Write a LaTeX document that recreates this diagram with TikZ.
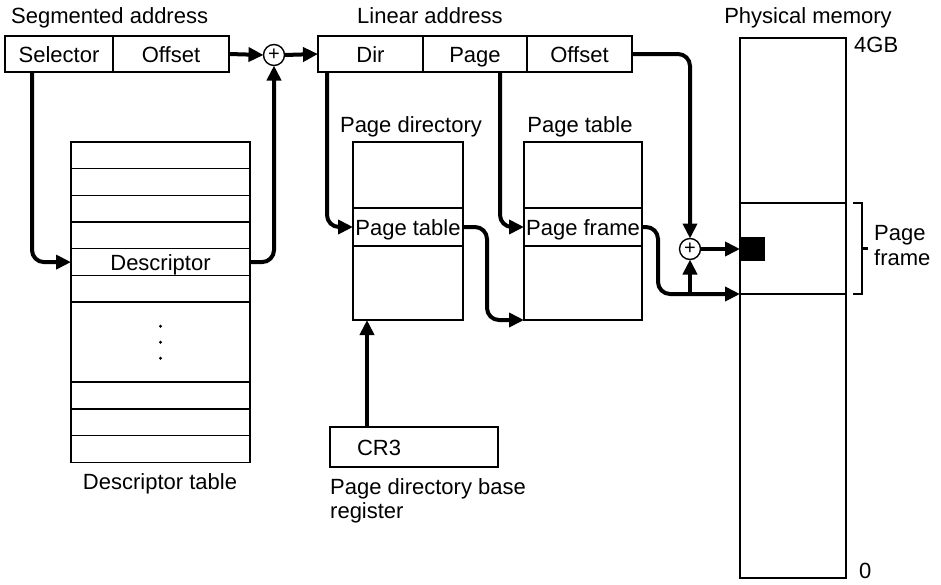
\documentclass[tikz,border=0pt]{standalone}
\usepackage{fontspec}
\setmainfont{Liberation Sans}
\usetikzlibrary{calc}
\usetikzlibrary{positioning}
\usetikzlibrary{arrows.meta}
\tikzstyle{fieldbox} = [draw=black, line width=1.4pt, outer sep=0pt,
minimum height=36pt, inner sep=0pt, text centered,
text height=17pt, text depth=0pt]
\tikzstyle{tabrow} = [draw=black, line width=1.4pt, outer sep=0pt,
minimum width=179pt, minimum height=26.7pt, inner sep=0pt,
text height=16pt, text depth=0pt]
\tikzstyle{adder} = [circle, draw=black, line width=1.4pt, outer sep=0pt,
minimum size=21pt, inner sep=0pt, font=\fontsize{20}{20}\selectfont]
\tikzstyle{lbl} = [inner sep=0pt]
\tikzstyle{arrow} = [line width=4pt, rounded corners=12pt,
-{Triangle[length=15pt,width=14pt]}]

\begin{document}
\begin{tikzpicture}[x=1pt, y=-1pt, font=\fontsize{22}{24}\selectfont] % 1px = 1pt
\useasboundingbox (0,0) rectangle (941,584);

% segmented address
\node[lbl, anchor=base west] (segtitle) at (11,23) {Segmented address};
\node[fieldbox, minimum width=108pt] (sel) at (59,54) {Selector};
\node[fieldbox, minimum width=116pt, right=0pt of sel] (soff) {Offset};
\node[adder] (add1) at (274,55) {+};

% linear address, placed to the right
\node[lbl, anchor=base] (lintitle) at (430,23) {Linear address};
\node[fieldbox, minimum width=105pt] (dir) at (370.5,54) {Dir};
\node[fieldbox, minimum width=104pt, right=0pt of dir] (page) {Page};
\node[fieldbox, minimum width=105pt, right=0pt of page] (loff) {Offset};

% descriptor table
\node[tabrow] (dt1) at (160.5,155.3) {};
\foreach \i [count=\j from 2] in {1,2,3}
    \node[tabrow, below=0pt of dt\i] (dt\j) {};
\node[tabrow, below=0pt of dt4] (desc) {Descriptor};
\node[tabrow, below=0pt of desc] (dt5) {};
\node[tabrow, minimum height=80pt, below=0pt of dt5] (dtgap) {};
\node[tabrow, below=0pt of dtgap] (dt6) {};
\node[tabrow, below=0pt of dt6] (dt7) {};
\node[tabrow, below=0pt of dt7] (dt8) {};
\foreach \d in {-16,0,16}
    \fill ([yshift=\d pt]dtgap.center) circle (1.6pt);
\node[lbl, anchor=base] (dtlabel) at (160,489) {Descriptor table};

% page directory
\node[lbl, anchor=base] (pdtitle) at (411,132) {Page directory};
\node[fieldbox, minimum width=110pt, minimum height=66pt] (pdtop) at (408,175) {};
\node[fieldbox, minimum width=110pt, minimum height=38pt, below=0pt of pdtop] (pdent) {Page table};
\node[fieldbox, minimum width=110pt, minimum height=74pt, below=0pt of pdent] (pdbot) {};

% page table
\node[lbl, anchor=base] (pttitle) at (580,132) {Page table};
\node[fieldbox, minimum width=118pt, minimum height=66pt] (pttop) at (583,175) {};
\node[fieldbox, minimum width=118pt, minimum height=38pt, below=0pt of pttop] (ptent) {Page frame};
\node[fieldbox, minimum width=118pt, minimum height=74pt, below=0pt of ptent] (ptbot) {};

% physical memory
\node[lbl, anchor=base] (pmtitle) at (808,23) {Physical memory};
\node[fieldbox, minimum width=106pt, minimum height=165pt] (pmtop) at (793,120.5) {};
\node[fieldbox, minimum width=106pt, minimum height=91pt, below=0pt of pmtop] (pfr) {};
\node[fieldbox, minimum width=106pt, minimum height=284pt, below=0pt of pfr] (pmbot) {};
\node[lbl, anchor=west] (top) at (854,45) {4GB};
\node[lbl, anchor=west] (bottom) at (859,571) {0};
\node[fill=black, outer sep=0pt, minimum width=25pt, minimum height=24pt, inner sep=0pt] (blk) at (752.5,249) {};
\node[adder] (add2) at (690,249) {+};
\draw[line width=2.5pt] ([xshift=7pt]pfr.north east) -| ([xshift=16pt]pfr.south east)
    -- ([xshift=7pt]pfr.south east);
\draw[line width=2.5pt] ([xshift=16pt]pfr.east) -- ++(6,0);
\node[lbl, anchor=west, align=left] (pflabel) at (874,246) {Page\\[1pt]frame};

% CR3
\node[fieldbox, minimum width=168pt, minimum height=40pt, text width=114pt,
    inner xsep=27pt, align=left] (cr3) at (414,447) {CR3};
\node[lbl, anchor=north west, align=left] (cr3label) at (330,478) {Page directory base\\register};
\coordinate (cr3up) at ([xshift=37pt]cr3.north west);

% connections
\draw[arrow] ([xshift=27pt]sel.south west) |- (desc.west);
\draw[arrow] (desc.east) -| (add1.south);
\draw[arrow] (soff.east) -- (add1.west);
\draw[arrow] (add1.east) -- (dir.west);
\draw[arrow] ([xshift=9pt]dir.south west) |- (pdent.west);
\draw[arrow] ([xshift=77pt]page.south west) |- (ptent.west);
\draw[arrow] (pdent.east) -| ([xshift=-37pt]ptbot.south west) -- (ptbot.south west);
\draw[arrow] (ptent.east) -| ([xshift=-82pt]pfr.south west) -- (pfr.south west);
\draw[arrow] (loff.east) -| (add2.north);
\draw[arrow] (add2.east) -- (blk.west);
\draw[arrow] (add2.south |- pfr.south) -- (add2.south);
\draw[arrow] (cr3up) -- (cr3up |- pdbot.south);

\end{tikzpicture}
\end{document}
